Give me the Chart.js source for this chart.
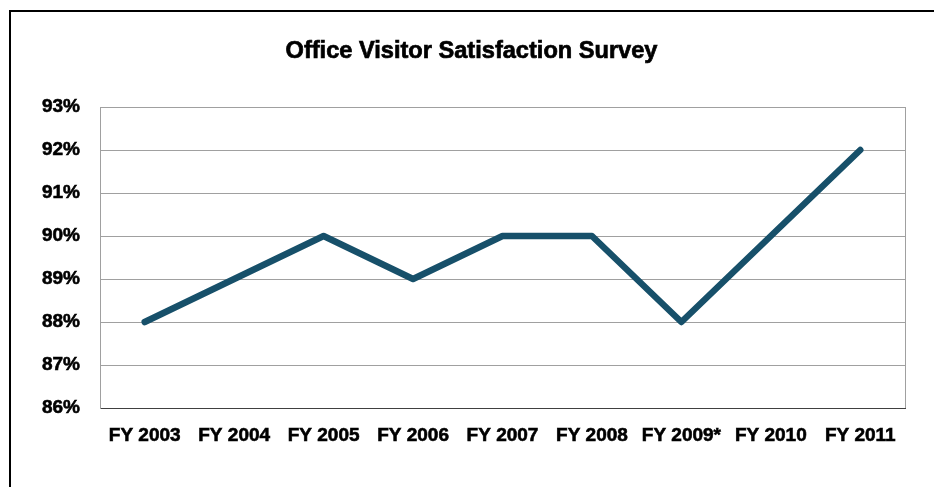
<!DOCTYPE html>
<html>
<head>
<meta charset="utf-8">
<script src="https://cdn.jsdelivr.net/npm/chart.js@4/dist/chart.umd.min.js"></script>
<style>
  html, body { margin: 0; padding: 0; background: #fff; }
  #wrap { position: relative; width: 934px; height: 487px; overflow: hidden; }
  #frame {
    position: absolute; left: 9px; top: 10px; width: 1000px; height: 600px;
    border-left: 2px solid #000; border-top: 2px solid #000; box-sizing: border-box;
  }
  canvas { position: absolute; left: 0; top: 0; }
</style>
</head>
<body>
<div id="wrap">
  <div id="frame"></div>
  <canvas id="chart" width="934" height="487"></canvas>
</div>
<script>
// Survey results by fiscal year (percent satisfied)
const chartTitle = 'Office Visitor Satisfaction Survey';
const categories = ['FY 2003', 'FY 2004', 'FY 2005', 'FY 2006', 'FY 2007', 'FY 2008', 'FY 2009*', 'FY 2010', 'FY 2011'];
const satisfaction = [88, 89, 90, 89, 90, 90, 88, 90, 92];
const yMin = 86;
const yMax = 93;

const FONT = '"Liberation Sans", Arial, sans-serif';

// Title centred over the page, plus the right edge of the plot frame
const extras = {
  id: 'extras',
  afterDraw(chart) {
    const { ctx, chartArea } = chart;
    ctx.save();
    ctx.strokeStyle = '#a0a0a0';
    ctx.lineWidth = 1;
    ctx.beginPath();
    ctx.moveTo(Math.round(chartArea.right) + 0.5, chartArea.top);
    ctx.lineTo(Math.round(chartArea.right) + 0.5, chartArea.bottom);
    ctx.stroke();
    ctx.fillStyle = '#000';
    ctx.strokeStyle = '#000';
    ctx.lineWidth = 0.7;
    ctx.font = 'bold 23.6px ' + FONT;
    ctx.textAlign = 'center';
    ctx.textBaseline = 'middle';
    ctx.fillText(chartTitle, 471.5, 51);
    ctx.strokeText(chartTitle, 471.5, 51);
    ctx.restore();
  }
};

new Chart(document.getElementById('chart'), {
  type: 'line',
  data: {
    labels: categories,
    datasets: [{
      data: satisfaction,
      borderColor: '#17506a',
      borderWidth: 6.5,
      borderCapStyle: 'round',
      borderJoinStyle: 'round',
      pointRadius: 0,
      tension: 0,
      fill: false
    }]
  },
  options: {
    responsive: false,
    animation: false,
    layout: { padding: { left: 0, right: 29, top: 107, bottom: 39 } },
    plugins: { legend: { display: false }, title: { display: false }, tooltip: { enabled: false } },
    scales: {
      x: {
        offset: true,
        grid: { display: false, drawTicks: false },
        border: { display: true, color: '#404040', width: 1 },
        ticks: {
          color: '#000', font: { family: FONT, size: 19, weight: 'bold' },
          textStrokeColor: '#000', textStrokeWidth: 0.6,
          padding: 16, maxRotation: 0, autoSkip: false
        },
        afterFit(scale) { scale.height = 40; }
      },
      y: {
        min: yMin,
        max: yMax,
        grid: { color: '#a0a0a0', lineWidth: 1, drawTicks: false },
        border: { display: true, color: '#a0a0a0', width: 1 },
        ticks: {
          stepSize: 1,
          color: '#000',
          padding: 20,
          font: { family: FONT, size: 19, weight: 'bold' },
          textStrokeColor: '#000', textStrokeWidth: 0.6,
          callback: v => v + '%'
        },
        afterFit(scale) { scale.width = 100; }
      }
    }
  },
  plugins: [extras]
});
</script>
</body>
</html>
